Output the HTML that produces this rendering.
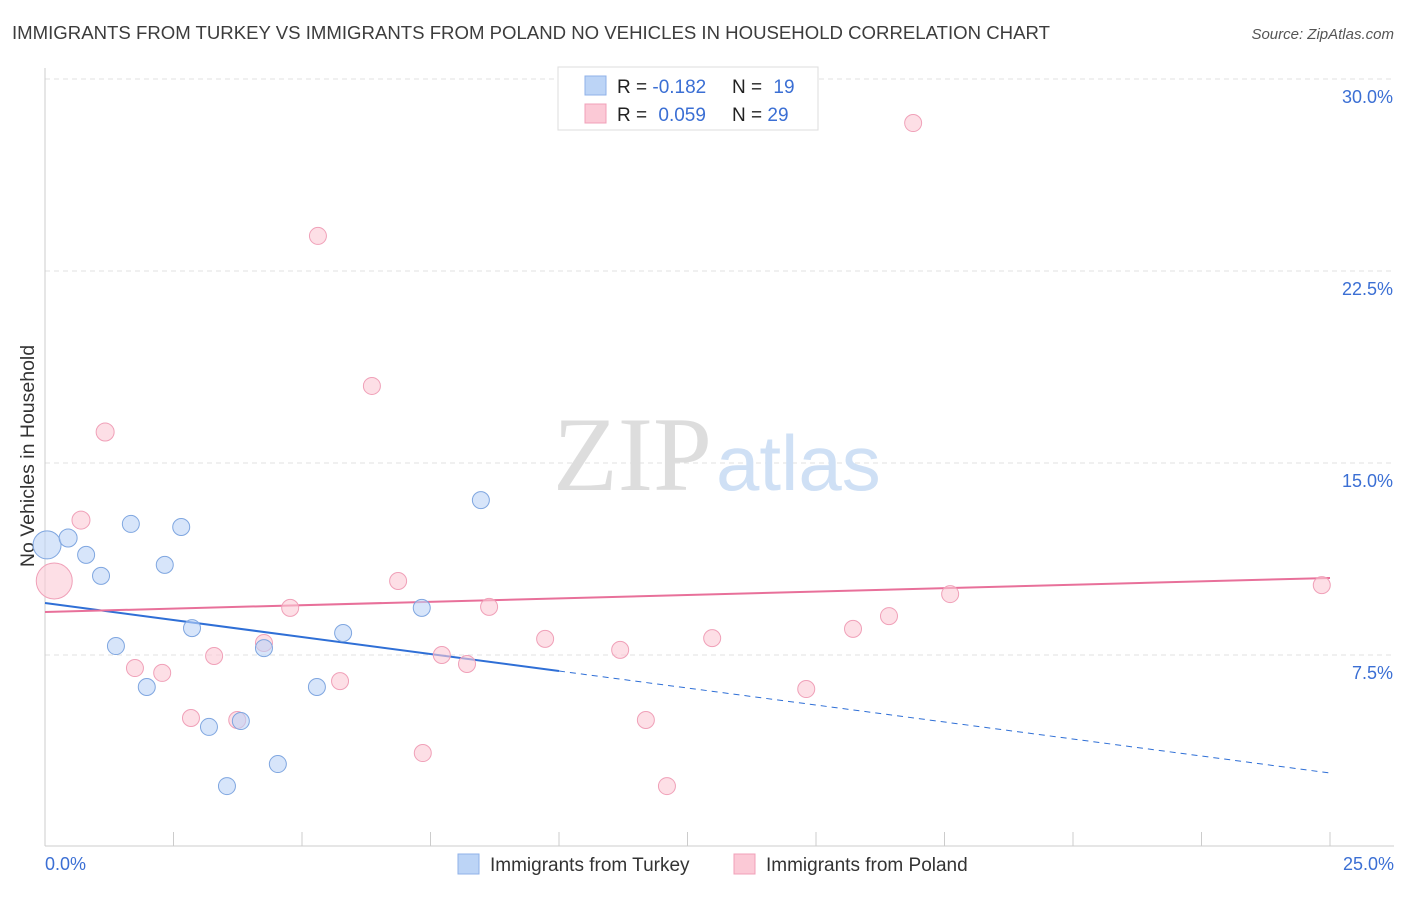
<!DOCTYPE html>
<html><head><meta charset="utf-8"><style>
body{margin:0;background:#fff;font-family:"Liberation Sans",sans-serif}
svg text{font-family:"Liberation Sans",sans-serif}
</style></head><body>
<svg width="1406" height="892" viewBox="0 0 1406 892" xmlns="http://www.w3.org/2000/svg">
<text x="12" y="39" font-size="18.6" fill="#3c3c3c">IMMIGRANTS FROM TURKEY VS IMMIGRANTS FROM POLAND NO VEHICLES IN HOUSEHOLD CORRELATION CHART</text>
<text x="1394" y="39" font-size="15" font-style="italic" fill="#555" text-anchor="end">Source: ZipAtlas.com</text>
<g id="grid"></g>
<line x1="45" y1="68" x2="45" y2="846" stroke="#ccc"/>
<line x1="45" y1="846" x2="1394" y2="846" stroke="#ccc"/>
<g id="xticks"></g>
<text x="553" y="490" font-size="106" fill="#ddd" style="font-family:'Liberation Serif',serif">ZIP</text>
<text x="716" y="490" font-size="78" fill="#cfe0f5">atlas</text>
<text x="28" y="462" font-size="19.5" fill="#333" text-anchor="middle" transform="rotate(-90 28 456)">No Vehicles in Household</text>
<text x="45" y="870" font-size="18" fill="#3b6fd4">0.0%</text>
<text x="1394" y="870" font-size="18" fill="#3b6fd4" text-anchor="end">25.0%</text>
<g id="lines"></g>
<g id="pts"></g>
<g>
<rect x="558" y="67" width="260" height="63" fill="#fff" stroke="#ddd"/>
<rect x="585" y="76" width="21" height="19" fill="#bcd4f6" stroke="#8fb2e8"/>
<rect x="585" y="104" width="21" height="19" fill="#fbc9d6" stroke="#f0a0b8"/>
<text x="617" y="93" font-size="19" fill="#222">R = <tspan fill="#3b6fd4">-0.182</tspan></text>
<text x="732" y="93" font-size="19" fill="#222">N = <tspan fill="#3b6fd4" dx="6">19</tspan></text>
<text x="617" y="121" font-size="19" fill="#222">R = <tspan fill="#3b6fd4" dx="6">0.059</tspan></text>
<text x="732" y="121" font-size="19" fill="#222">N = <tspan fill="#3b6fd4">29</tspan></text>
</g>
<g>
<rect x="458" y="854" width="21" height="20" fill="#bcd4f6" stroke="#8fb2e8"/>
<text x="490" y="871" font-size="19" fill="#333">Immigrants from Turkey</text>
<rect x="734" y="854" width="21" height="20" fill="#fbc9d6" stroke="#f0a0b8"/>
<text x="766" y="871" font-size="19" fill="#333">Immigrants from Poland</text>
</g>
</svg>
<script>
const yTicks=[7.5,15.0,22.5,30.0];
const yTickLabels=["7.5%","15.0%","22.5%","30.0%"];
const turkeyX=[0.04,0.45,0.80,1.09,1.67,1.38,1.98,2.33,2.65,2.86,3.19,3.81,4.26,4.53,3.54,5.29,5.80,7.33,8.48];
const turkeyY=[11.80,12.07,11.41,10.59,12.62,7.85,6.25,11.02,12.50,8.55,4.69,4.92,7.77,3.24,2.38,6.25,8.36,9.34,13.55];
const turkeySize=[14,9,8.5,8.5,8.5,8.5,8.5,8.5,8.5,8.5,8.5,8.5,8.5,8.5,8.5,8.5,8.5,8.5,8.5];
const polandX=[0.18,0.70,1.17,1.75,2.28,2.84,3.29,3.74,4.26,4.77,5.31,5.74,6.36,6.87,7.35,7.72,8.21,8.64,9.73,11.19,11.69,12.10,12.98,14.81,15.72,16.42,16.89,17.61,24.84];
const polandY=[10.39,12.77,16.21,6.99,6.80,5.04,7.46,4.96,7.97,9.34,23.87,6.48,18.01,10.39,3.67,7.50,7.15,9.38,8.13,7.70,4.96,2.38,8.16,6.17,8.52,9.02,28.28,9.88,10.23];
const polandSize=[18,9,9,8.5,8.5,8.5,8.5,8.5,8.5,8.5,8.5,8.5,8.5,8.5,8.5,8.5,8.5,8.5,8.5,8.5,8.5,8.5,8.5,8.5,8.5,8.5,8.5,8.5,8.5];
const turkeyTrend=[9.53,2.89];
const polandTrend=[9.18,10.51];
const turkeySolidEnd=10.0;
const NS="http://www.w3.org/2000/svg";
const xs=v=>45+v/25*1285;
const ys=v=>847-v/7.5*192;
function mk(t,a,p){const e=document.createElementNS(NS,t);for(const k in a)e.setAttribute(k,a[k]);p.appendChild(e);return e;}
const grid=document.getElementById('grid');
yTicks.forEach((t,i)=>{
 const l=mk('line',{x1:45,x2:1394,y1:ys(t),y2:ys(t),stroke:'#e2e2e2','stroke-dasharray':'5,4'},grid);
 
 
 const tx=mk('text',{x:1393,y:ys(t)+24,'font-size':18,fill:'#3b6fd4','text-anchor':'end'},grid);
 tx.textContent=yTickLabels[i];
 
 
});
const xt=document.getElementById('xticks');
for(let i=1;i<=10;i++){const l=mk('line',{x1:xs(i*2.5),x2:xs(i*2.5),y1:832,y2:846,stroke:'#ccc'},xt);
 
 }
const pts=document.getElementById('pts');
polandX.forEach((x,i)=>{const c=mk('circle',{cx:xs(x),cy:ys(polandY[i]),r:polandSize[i],fill:'#fbc9d6','fill-opacity':0.6,stroke:'#f0a0b8'},pts);
 
 });
turkeyX.forEach((x,i)=>{const c=mk('circle',{cx:xs(x),cy:ys(turkeyY[i]),r:turkeySize[i],fill:'#bcd4f6','fill-opacity':0.6,stroke:'#7fa6e0'},pts);
 
 });
const lines=document.getElementById('lines');
const tY=x=>turkeyTrend[0]+(turkeyTrend[1]-turkeyTrend[0])*x/25;
let l1=mk('line',{x1:xs(0),y1:ys(tY(0)),x2:xs(turkeySolidEnd),y2:ys(tY(turkeySolidEnd)),stroke:'#2f6fd6','stroke-width':2},lines);


let l2=mk('line',{x1:xs(turkeySolidEnd),y1:ys(tY(turkeySolidEnd)),x2:xs(25),y2:ys(tY(25)),stroke:'#2f6fd6','stroke-width':1,'stroke-dasharray':'6,5'},lines);


let l3=mk('line',{x1:xs(0),y1:ys(polandTrend[0]),x2:xs(25),y2:ys(polandTrend[1]),stroke:'#e8709a','stroke-width':2},lines);


</script>
</body></html>
